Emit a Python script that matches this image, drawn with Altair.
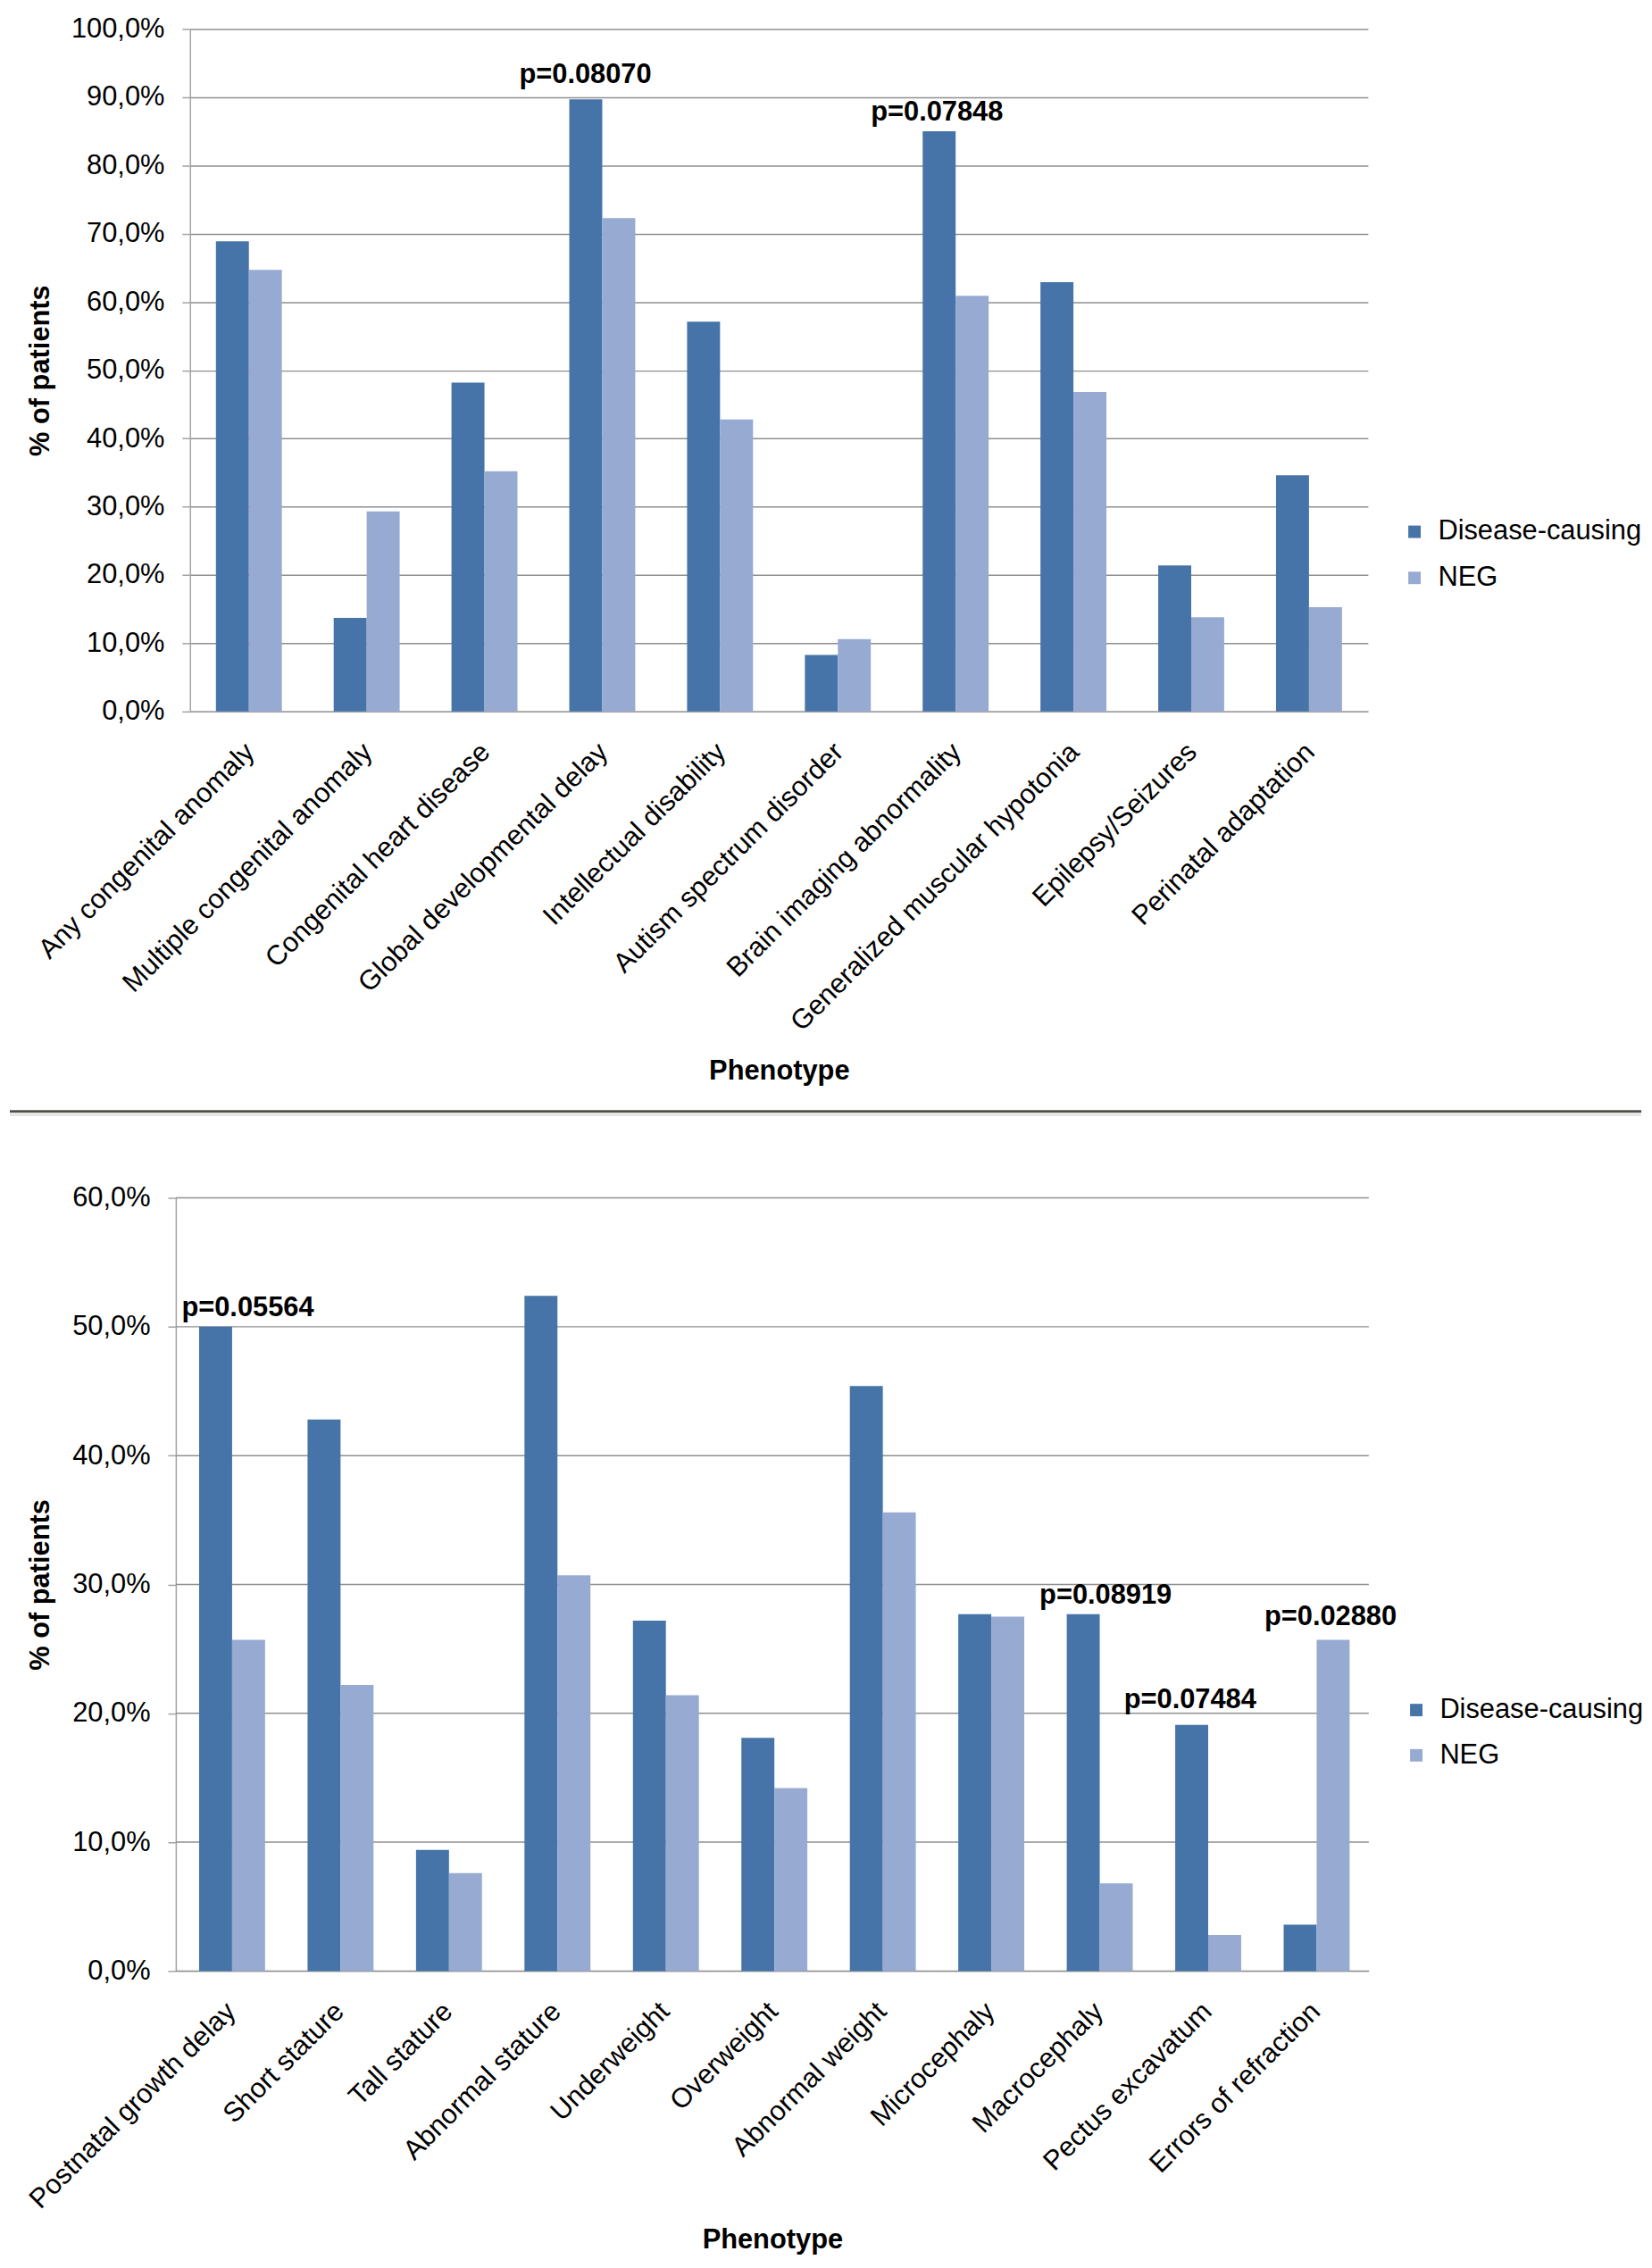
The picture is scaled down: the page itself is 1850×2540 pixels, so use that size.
import altair as alt
import pandas as pd

# ---------------- data ----------------
series = ["Disease-causing", "NEG"]
series_colors = ["#4674A8", "#97AAD2"]

top_categories = [
    "Any congenital anomaly",
    "Multiple congenital anomaly",
    "Congenital heart disease",
    "Global developmental delay",
    "Intellectual disability",
    "Autism spectrum disorder",
    "Brain imaging abnormality",
    "Generalized muscular hypotonia",
    "Epilepsy/Seizures",
    "Perinatal adaptation",
]
top_dc = [68.9, 13.7, 48.2, 89.7, 57.1, 8.3, 85.0, 62.9, 21.4, 34.6]
top_neg = [64.7, 29.3, 35.2, 72.3, 42.8, 10.6, 60.9, 46.8, 13.8, 15.3]
top_ticks = [0, 10, 20, 30, 40, 50, 60, 70, 80, 90, 100]
top_p_categories = ["Global developmental delay", "Brain imaging abnormality"]
top_p_texts = ["p=0.08070", "p=0.07848"]
top_p_values = [89.7, 85.0]

bottom_categories = [
    "Postnatal growth delay",
    "Short stature",
    "Tall stature",
    "Abnormal stature",
    "Underweight",
    "Overweight",
    "Abnormal weight",
    "Microcephaly",
    "Macrocephaly",
    "Pectus excavatum",
    "Errors of refraction",
]
bottom_dc = [50.0, 42.8, 9.4, 52.4, 27.2, 18.1, 45.4, 27.7, 27.7, 19.1, 3.6]
bottom_neg = [25.7, 22.2, 7.6, 30.7, 21.4, 14.2, 35.6, 27.5, 6.8, 2.8, 25.7]
bottom_ticks = [0, 10, 20, 30, 40, 50, 60]
bottom_p_categories = ["Postnatal growth delay", "Macrocephaly", "Pectus excavatum", "Errors of refraction"]
bottom_p_texts = ["p=0.05564", "p=0.08919", "p=0.07484", "p=0.02880"]
bottom_p_values = [50.0, 27.7, 19.1, 25.7]

# ---------------- styles (pixel offsets of p-value labels) ----------------
top_p_offsets = [(-19, -18), (-21, -12)]
bottom_p_offsets = [(20, -12), (9, -12), (-18, -19), (18, -17)]

FONT = "Liberation Sans"
GRID = "#8f8f8f"
DOMAIN = "#a3a3a3"
LABEL_EXPR = "replace(format(datum.value, '.1f'), '.', ',') + '%'"
TICK_FS = 31
TITLE_FS = 31
LEGEND_FS = 31
P_FS = 31


def long_df(cats, dc, neg):
    rows = []
    for c, a, b in zip(cats, dc, neg):
        rows.append({"Phenotype": c, "Group": series[0], "Value": a})
        rows.append({"Phenotype": c, "Group": series[1], "Value": b})
    return pd.DataFrame(rows)


def panel(cats, dc, neg, ticks, ymax, pcats, ptexts, pvals, poffs,
          width, height, pad_inner, x_title_y, y_title_x,
          legend_x, legend_y, row_pad, shift):
    # shift > 0: the plot rectangle is drawn `shift` px left of the view origin
    x_scale = alt.Scale(paddingInner=pad_inner, paddingOuter=pad_inner / 2)
    if shift:
        x_scale = alt.Scale(paddingInner=pad_inner, paddingOuter=pad_inner / 2,
                            range=[-shift, width])
    x_enc = alt.X(
        "Phenotype:N",
        sort=cats,
        scale=x_scale,
        axis=alt.Axis(
            title="Phenotype",
            labelAngle=-45,
            labelAlign="right",
            labelBaseline="top",
            labelFontSize=TICK_FS,
            labelFont=FONT,
            labelColor="black",
            labelLimit=2000,
            labelPadding=30,
            labelOffset=-9,
            ticks=False,
            tickSize=0,
            domainColor=DOMAIN,
            domainWidth=1.5,
            grid=False,
            titleFontSize=TITLE_FS,
            titleFont=FONT,
            titleFontWeight="bold",
            titleColor="black",
            titleY=x_title_y,
            titleBaseline="alphabetic",
        ),
    )
    y_axis_kwargs = dict(
        title="% of patients",
        values=ticks,
        labelExpr=LABEL_EXPR,
        labelFontSize=TICK_FS,
        labelFont=FONT,
        labelColor="black",
        labelPadding=20,
        tickSize=9,
        tickColor=DOMAIN,
        tickWidth=1.5,
        domainColor=DOMAIN,
        domainWidth=1.5,
        grid=not shift,
        gridColor=GRID,
        gridWidth=1.5,
        titleFontSize=TITLE_FS,
        titleFont=FONT,
        titleFontWeight="bold",
        titleColor="black",
        titleX=y_title_x,
        titleBaseline="middle",
    )
    if shift:
        y_axis_kwargs["offset"] = shift
    y_enc = alt.Y(
        "Value:Q",
        scale=alt.Scale(domain=[0, ymax], nice=False),
        axis=alt.Axis(**y_axis_kwargs),
    )
    layers = []
    if shift:
        layers.append(
            alt.Chart(pd.DataFrame({"Value": ticks}))
            .mark_rule(color=GRID, strokeWidth=1.5)
            .encode(y=y_enc, x=alt.value(-shift), x2=alt.value(width))
        )
    bars = alt.Chart(long_df(cats, dc, neg)).mark_bar().encode(
        x=x_enc,
        xOffset=alt.XOffset("Group:N", sort=series,
                            scale=alt.Scale(paddingInner=0, paddingOuter=0)),
        y=y_enc,
        color=alt.Color(
            "Group:N",
            sort=series,
            title=None,
            scale=alt.Scale(domain=series, range=series_colors),
            legend=alt.Legend(
                orient="none",
                legendX=legend_x,
                legendY=legend_y,
                symbolType="square",
                symbolSize=196,
                symbolStrokeWidth=0,
                labelFontSize=LEGEND_FS,
                labelFont=FONT,
                labelColor="black",
                labelLimit=2000,
                labelOffset=11,
                rowPadding=row_pad,
                padding=0,
            ),
        ),
    )
    layers.append(bars)
    for c, t, v, (dx, dy) in zip(pcats, ptexts, pvals, poffs):
        layers.append(
            alt.Chart(pd.DataFrame({"Phenotype": [c], "Value": [v], "Label": [t]}))
            .mark_text(font=FONT, fontSize=P_FS, fontWeight="bold", color="black",
                       align="center", baseline="alphabetic", dx=dx, dy=dy)
            .encode(x=x_enc, y=y_enc, text="Label:N")
        )
    return layers


dummy = pd.DataFrame({"k": [0]})

top_width, top_height = 1327, 769
bottom_width, bottom_height = 1328, 871

separator = [
    alt.Chart(dummy).mark_rule(color="#4f4f4a", strokeWidth=2.6).encode(
        x=alt.value(-203), x2=alt.value(1635), y=alt.value(1219.5)),
    alt.Chart(dummy).mark_rule(color="#e6e6e6", strokeWidth=4).encode(
        x=alt.value(-203), x2=alt.value(1635), y=alt.value(1222.8)),
]

top_layers = panel(top_categories, top_dc, top_neg, top_ticks, 100,
                   top_p_categories, top_p_texts, top_p_values, top_p_offsets,
                   top_width, top_height, 0.44, 414, -168,
                   1364, 551, 20, 0)
top = alt.layer(*(top_layers + separator)).properties(width=top_width, height=top_height)

bottom_layers = panel(bottom_categories, bottom_dc, bottom_neg, bottom_ticks, 60,
                      bottom_p_categories, bottom_p_texts, bottom_p_values, bottom_p_offsets,
                      bottom_width, bottom_height, 0.43, 312, -152,
                      1366, 561.5, 19, 16)
bottom = alt.layer(*bottom_layers).properties(width=bottom_width, height=bottom_height)

chart = (
    alt.vconcat(top, bottom, spacing=74)
    .resolve_scale(color="independent")
    .resolve_legend(color="independent")
    .properties(padding=0, background="white")
    .configure(font=FONT)
    .configure_view(stroke="transparent")
)

chart.save("out.html", embed_options={"renderer": "svg", "actions": False})
